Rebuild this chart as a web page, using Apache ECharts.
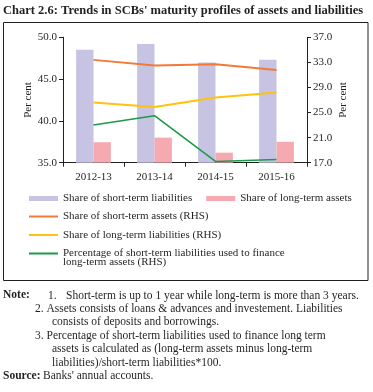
<!DOCTYPE html>
<html><head><meta charset="utf-8">
<script src="https://cdn.jsdelivr.net/npm/echarts@6/dist/echarts.min.js"></script>
<style>html,body{margin:0;padding:0;background:#fff}#c{width:373px;height:392px}</style>
</head><body><div id="c"></div>
<script>
var categories = ['2012-13', '2013-14', '2014-15', '2015-16'];
var shortTermLiabilities = [48.5, 49.2, 47.0, 47.3];
var longTermAssets = [37.45, 38.0, 36.2, 37.5];
var shortTermAssetsRHS = [33.4, 32.5, 32.7, 31.8];
var longTermLiabilitiesRHS = [26.6, 25.9, 27.4, 28.2];
var pctShortTermFinanceRHS = [23.0, 24.5, 17.2, 17.5];
var leftTicks = {min: 35, max: 50, interval: 5};
var rightTicks = {min: 17, max: 37, interval: 4};
var names = ['Share of short-term liabilities', 'Share of long-term assets', 'Share of short-term assets (RHS)', 'Share of long-term liabilities (RHS)', 'Percentage of short-term liabilities used to finance long-term assets (RHS)'];

var F = 'Liberation Serif';
var chart = echarts.init(document.getElementById('c'), null, {renderer: 'canvas'});
var txt = {fontFamily: F, fontSize: 11, color: '#231f20'};
var NF = '11.5px "Liberation Serif"';
function legendRow(top, data, h, extra) {
  return Object.assign({
    left: 29, top: top, orient: 'horizontal', itemWidth: 29, itemHeight: h, itemGap: 16,
    textStyle: Object.assign({}, txt, {fontSize: 11}), data: data, selectedMode: false,
    padding: 0
  }, extra || {});
}
chart.setOption({
  animation: false,
  title: {text: 'Chart 2.6: Trends in SCBs\' maturity profiles of assets and liabilities', left: 3, top: 4, padding: 0,
    textStyle: {fontFamily: F, fontSize: 12.5, fontWeight: 'bold', color: '#231f20'}},
  grid: {left: 63, right: 66, top: 37.3, bottom: 229.3},
  legend: [
    legendRow(193, [{name: names[0], icon: 'rect'}, {name: names[1], icon: 'rect'}], 5, {itemGap: 14}),
    legendRow(211, [{name: names[2], icon: 'rect'}], 2),
    legendRow(229.5, [{name: names[3], icon: 'rect'}], 2),
    legendRow(248, [{name: names[4], icon: 'rect'}], 2, {
      formatter: function () { return 'Percentage of short-term liabilities used to finance'; }
    })
  ],
  xAxis: {
    type: 'category', data: categories, boundaryGap: true,
    axisLine: {lineStyle: {color: '#231f20', width: 1}},
    axisTick: {show: true, length: 4, inside: false, lineStyle: {color: '#231f20'}},
    axisLabel: Object.assign({}, txt, {margin: 9})
  },
  yAxis: [
    {type: 'value', min: leftTicks.min, max: leftTicks.max, interval: leftTicks.interval,
      name: 'Per cent', nameLocation: 'middle', nameGap: 29, nameRotate: 90, nameMoveOverlap: false,
      nameTextStyle: Object.assign({}, txt),
      axisLine: {show: true, lineStyle: {color: '#231f20'}},
      axisTick: {show: true, length: 4, lineStyle: {color: '#231f20'}},
      axisLabel: Object.assign({}, txt, {margin: 6, formatter: function (v) { return v.toFixed(1); }}),
      splitLine: {show: false}},
    {type: 'value', min: rightTicks.min, max: rightTicks.max, interval: rightTicks.interval, position: 'right',
      name: 'Per cent', nameLocation: 'middle', nameGap: 31, nameRotate: 90, nameMoveOverlap: false,
      nameTextStyle: Object.assign({}, txt),
      axisLine: {show: true, lineStyle: {color: '#231f20'}},
      axisTick: {show: true, length: 4, lineStyle: {color: '#231f20'}},
      axisLabel: Object.assign({}, txt, {margin: 6, formatter: function (v) { return v.toFixed(1); }}),
      splitLine: {show: false}}
  ],
  series: [
    {name: names[0], type: 'bar', yAxisIndex: 0, data: shortTermLiabilities, barWidth: 17.4, barGap: '0%',
      itemStyle: {color: '#c6c4e2'}},
    {name: names[1], type: 'bar', yAxisIndex: 0, data: longTermAssets, barWidth: 17.4, barGap: '0%',
      itemStyle: {color: '#f5aab2'}},
    {name: names[2], type: 'line', yAxisIndex: 1, data: shortTermAssetsRHS, symbol: 'none',
      lineStyle: {color: '#f37a36', width: 2}, itemStyle: {color: '#f37a36'}},
    {name: names[3], type: 'line', yAxisIndex: 1, data: longTermLiabilitiesRHS, symbol: 'none',
      lineStyle: {color: '#ffc20e', width: 2}, itemStyle: {color: '#ffc20e'}},
    {name: names[4], type: 'line', yAxisIndex: 1, data: pctShortTermFinanceRHS, symbol: 'none',
      lineStyle: {color: '#1a9a4a', width: 1.6}, itemStyle: {color: '#1a9a4a'}}
  ],
  graphic: [
    {type: 'rect', shape: {x: 3.5, y: 22.5, width: 364.5, height: 258}, style: {fill: null, stroke: '#231f20', lineWidth: 1}, silent: true},
    {type: 'text', left: 63, top: 257, style: {text: 'long-term assets (RHS)', font: '11px "Liberation Serif"', fill: '#231f20'}},
    {type: 'text', left: 3, top: 289.5, style: {text: 'Note:', font: 'bold ' + NF, fill: '#231f20'}},
    {type: 'text', left: 48, top: 289.5, style: {text: '1.', font: NF, fill: '#231f20'}},
    {type: 'text', left: 66, top: 289.5, style: {text: 'Short-term is up to 1 year while long-term is more than 3 years.', font: NF, fill: '#231f20'}},
    {type: 'text', left: 35, top: 302.5, style: {text: '2. Assets consists of loans & advances and investement. Liabilities', font: NF, fill: '#231f20'}},
    {type: 'text', left: 52, top: 316, style: {text: 'consists of deposits and borrowings.', font: NF, fill: '#231f20'}},
    {type: 'text', left: 35, top: 329.5, style: {text: '3. Percentage of short-term liabilities used to finance long term', font: NF, fill: '#231f20'}},
    {type: 'text', left: 52, top: 343, style: {text: 'assets is calculated as (long-term assets minus long-term', font: NF, fill: '#231f20'}},
    {type: 'text', left: 52, top: 356.5, style: {text: 'liabilities)/short-term liabilities*100.', font: NF, fill: '#231f20'}},
    {type: 'text', left: 3, top: 370, style: {text: 'Source:', font: 'bold ' + NF, fill: '#231f20'}},
    {type: 'text', left: 43, top: 370, style: {text: 'Banks\' annual accounts.', font: NF, fill: '#231f20'}}
  ]
});
</script></body></html>
